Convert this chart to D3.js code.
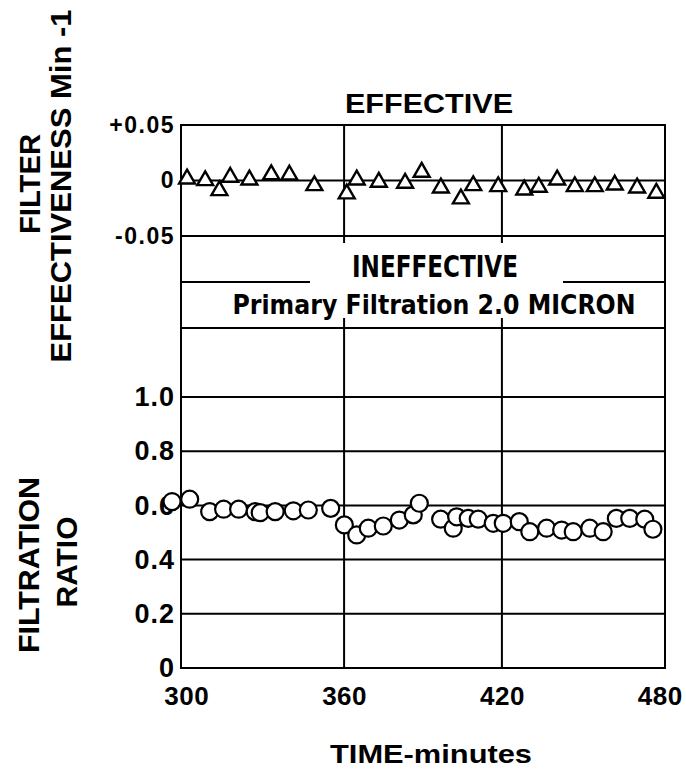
<!DOCTYPE html>
<html>
<head>
<meta charset="utf-8">
<script src="https://cdn.jsdelivr.net/npm/d3@7"></script>
<style>
  html, body { margin: 0; padding: 0; background: #fff; }
  svg { display: block; }
  text { font-family: "Liberation Sans", Arial, sans-serif; font-weight: bold; fill: #000; }
  .narrow { font-family: "Liberation Sans Narrow", "DejaVu Sans Condensed", "Liberation Sans", sans-serif; }
</style>
</head>
<body>
<div class="vis"></div>
<script>
'use strict';

// --- data ---
// filter effectiveness (triangles), min^-1
var effTime = [300.3, 307.2, 312.6, 316.7, 324.0, 332.3, 339.2, 348.7, 361.0, 364.8,
  373.2, 383.2, 389.5, 396.8, 404.4, 409.1, 418.6, 428.5, 434.0, 441.0,
  447.7, 455.3, 462.9, 471.4, 478.7];
var effValue = [0.0015, 0.0, -0.009, 0.003, 0.0006, 0.0054, 0.005, -0.0045, -0.012, 0.0006,
  -0.0015, -0.0024, 0.0075, -0.0066, -0.0165, -0.0045, -0.0054, -0.0084, -0.006, 0.0006,
  -0.0054, -0.0054, -0.004, -0.0066, -0.0114];

// filtration ratio (circles)
var ratioTime = [294.6, 301.3, 308.9, 314.2, 319.9, 326.2, 328.1, 333.8, 340.7, 346.4,
  354.9, 360.1, 364.8, 369.2, 374.9, 381.0, 386.3, 388.6, 396.7, 401.5,
  402.8, 407.2, 411.0, 416.7, 420.5, 426.6, 430.6, 437.0, 442.7, 447.1,
  453.4, 458.5, 463.5, 468.6, 474.3, 477.4];
var ratioValue = [0.614, 0.623, 0.577, 0.586, 0.586, 0.577, 0.573, 0.577, 0.580, 0.583,
  0.589, 0.528, 0.491, 0.516, 0.524, 0.546, 0.565, 0.608, 0.549, 0.516,
  0.558, 0.552, 0.549, 0.534, 0.534, 0.540, 0.503, 0.516, 0.509, 0.503,
  0.516, 0.503, 0.552, 0.552, 0.549, 0.512];

var xTicks = [300, 360, 420, 480];
var xGrid = [360, 420];
var topTicks = [0.05, 0, -0.05];
var topTickLabels = ['+0.05', '0', '-0.05'];
var bottomTicks = [0, 0.2, 0.4, 0.6, 0.8, 1.0];
var bottomTickLabels = ['0', '0.2', '0.4', '0.6', '0.8', '1.0'];

// --- layout ---
var width = 686;
var height = 778;
var left = 181;
var right = 665;
var topY = 125;      // +0.05
var midTop = 236;    // -0.05
var midBottom = 328; // top of ratio panel
var bottomY = 668;   // ratio 0

var x = d3.scaleLinear().domain([298, 482]).range([left, right]);
var yTop = d3.scaleLinear().domain([-0.05, 0.05]).range([midTop, topY]);
var yBot = d3.scaleLinear().domain([0, 1]).range([bottomY, 397]);

var svg = d3.select('.vis').append('svg')
  .attr('width', width)
  .attr('height', height);

var lines = svg.append('g')
  .attr('stroke', '#000')
  .attr('stroke-width', 2)
  .attr('fill', 'none');

// outer frame
lines.append('rect')
  .attr('x', left).attr('y', topY)
  .attr('width', right - left).attr('height', bottomY - topY);

// top panel: zero line and -0.05 boundary
lines.selectAll('.top-h')
  .data([0, -0.05])
  .enter().append('line')
  .attr('x1', left).attr('x2', right)
  .attr('y1', function(d) { return yTop(d); })
  .attr('y2', function(d) { return yTop(d); });

// middle separator lines
var midY = (midTop + midBottom) / 2;
lines.append('line').attr('x1', left).attr('x2', 310).attr('y1', midY).attr('y2', midY);
lines.append('line').attr('x1', 563).attr('x2', right).attr('y1', midY).attr('y2', midY);
lines.append('line').attr('x1', left).attr('x2', right).attr('y1', midBottom).attr('y2', midBottom);

// bottom panel horizontal grid
lines.selectAll('.bot-h')
  .data(bottomTicks.slice(1))
  .enter().append('line')
  .attr('x1', left).attr('x2', right)
  .attr('y1', function(d) { return yBot(d); })
  .attr('y2', function(d) { return yBot(d); });

// vertical grid in both panels, short ticks into the middle band
xGrid.forEach(function(t) {
  var gx = x(t);
  lines.append('line').attr('x1', gx).attr('x2', gx).attr('y1', topY).attr('y2', midTop + 7);
  lines.append('line').attr('x1', gx).attr('x2', gx).attr('y1', midBottom - 10).attr('y2', bottomY);
});

// axes (labels only)
function styleAxis(g, size, spacing) {
  g.attr('font-size', null).attr('font-family', null);
  g.select('.domain').remove();
  g.selectAll('text')
    .attr('fill', '#000')
    .style('font-size', size + 'px')
    .style('letter-spacing', spacing + 'px');
}

svg.append('g')
  .attr('transform', 'translate(' + left + ',0)')
  .call(d3.axisLeft(yTop).tickValues(topTicks).tickSize(0).tickPadding(6)
    .tickFormat(function(d, i) { return topTickLabels[i]; }))
  .call(function(g) { styleAxis(g, 23, 1.5); });

svg.append('g')
  .attr('transform', 'translate(' + left + ',0)')
  .call(d3.axisLeft(yBot).tickValues(bottomTicks).tickSize(0).tickPadding(6)
    .tickFormat(function(d, i) { return bottomTickLabels[i]; }))
  .call(function(g) { styleAxis(g, 27, 1); });

svg.append('g')
  .attr('transform', 'translate(0,' + bottomY + ')')
  .call(d3.axisBottom(x).tickValues(xTicks).tickSize(0).tickPadding(19).tickFormat(d3.format('d')))
  .call(function(g) { styleAxis(g, 26, 0.5); });

// triangles
var tri = d3.symbol().type(d3.symbolTriangle).size(110);
svg.append('g').selectAll('path')
  .data(effTime)
  .enter().append('path')
  .attr('d', tri)
  .attr('transform', function(d, i) {
    return 'translate(' + x(d) + ',' + yTop(effValue[i]) + ')';
  })
  .attr('fill', '#fff')
  .attr('stroke', '#000')
  .attr('stroke-width', 2.4);

// circles
svg.append('g').selectAll('circle')
  .data(ratioTime)
  .enter().append('circle')
  .attr('cx', function(d) { return x(d); })
  .attr('cy', function(d, i) { return yBot(ratioValue[i]); })
  .attr('r', 8.5)
  .attr('fill', '#fff')
  .attr('stroke', '#000')
  .attr('stroke-width', 2.2);

// titles and band texts
svg.append('text')
  .attr('x', 429).attr('y', 113)
  .attr('text-anchor', 'middle')
  .attr('textLength', 168).attr('lengthAdjust', 'spacingAndGlyphs')
  .style('font-size', '28px')
  .text('EFFECTIVE');

svg.append('text')
  .attr('class', 'narrow')
  .attr('x', 435).attr('y', 277)
  .attr('text-anchor', 'middle')
  .attr('textLength', 166).attr('lengthAdjust', 'spacingAndGlyphs')
  .style('font-size', '30px')
  .text('INEFFECTIVE');

svg.append('text')
  .attr('class', 'narrow')
  .attr('x', 434).attr('y', 314)
  .attr('text-anchor', 'middle')
  .attr('textLength', 403).attr('lengthAdjust', 'spacingAndGlyphs')
  .style('font-size', '26px')
  .text('Primary Filtration 2.0 MICRON');

svg.append('text')
  .attr('x', 431).attr('y', 763)
  .attr('text-anchor', 'middle')
  .attr('textLength', 202).attr('lengthAdjust', 'spacingAndGlyphs')
  .style('font-size', '26px')
  .text('TIME-minutes');

// rotated y labels
function yLabel(text, bx, cy, len) {
  svg.append('text')
    .attr('transform', 'translate(' + bx + ',' + cy + ') rotate(-90)')
    .attr('text-anchor', 'middle')
    .attr('textLength', len).attr('lengthAdjust', 'spacingAndGlyphs')
    .style('font-size', '30px')
    .text(text);
}
yLabel('FILTER', 40, 184, 100);
yLabel('EFFECTIVENESS Min -1', 71, 186, 353);
yLabel('FILTRATION', 39, 565, 176);
yLabel('RATIO', 77, 562, 91);
</script>
</body>
</html>
